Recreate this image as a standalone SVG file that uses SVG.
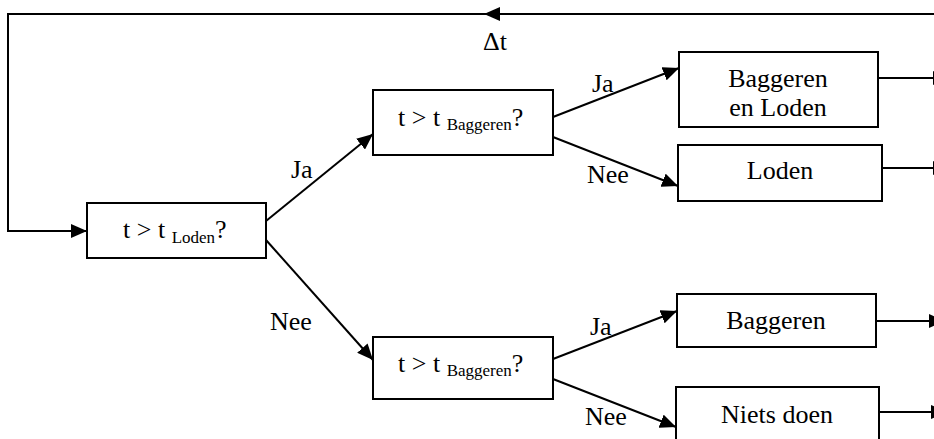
<svg xmlns="http://www.w3.org/2000/svg" width="934" height="439" viewBox="0 0 934 439">
<style>
.box{fill:#fff;stroke:#000;stroke-width:2}
.ln{fill:none;stroke:#000;stroke-width:2}
text{font-family:'Liberation Serif',serif;font-size:26px;fill:#000}
.c{text-anchor:middle}
.s{font-size:17px}
</style>
<defs>
<marker id="ah" markerUnits="userSpaceOnUse" markerWidth="16" markerHeight="14" refX="16" refY="7" orient="auto">
<path d="M0,0 L16,7 L0,14 z" fill="#000"/>
</marker>
</defs>
<rect width="934" height="439" fill="#fff"/>
<g id="connectors">
<line class="ln" x1="940" y1="14" x2="484" y2="14" marker-end="url(#ah)"/>
<polyline class="ln" points="486,14 8,14 8,231 87,231" marker-end="url(#ah)"/>
<line class="ln" x1="266" y1="221" x2="373" y2="134" marker-end="url(#ah)"/>
<line class="ln" x1="266" y1="240" x2="373" y2="360" marker-end="url(#ah)"/>
<line class="ln" x1="553" y1="117" x2="679" y2="68" marker-end="url(#ah)"/>
<line class="ln" x1="553" y1="137" x2="678" y2="186" marker-end="url(#ah)"/>
<line class="ln" x1="553" y1="359" x2="677" y2="311" marker-end="url(#ah)"/>
<line class="ln" x1="553" y1="379" x2="676" y2="427" marker-end="url(#ah)"/>
<line class="ln" x1="878" y1="78" x2="949" y2="78" marker-end="url(#ah)"/>
<line class="ln" x1="882" y1="168" x2="949" y2="168" marker-end="url(#ah)"/>
<line class="ln" x1="876" y1="321" x2="945" y2="321" marker-end="url(#ah)"/>
<line class="ln" x1="879" y1="412" x2="947" y2="412" marker-end="url(#ah)"/>
<text font-family="Liberation Serif, serif" x="483" y="50">Δt</text>
<text font-family="Liberation Serif, serif" x="291" y="178">Ja</text>
<text font-family="Liberation Serif, serif" x="270" y="330">Nee</text>
<text font-family="Liberation Serif, serif" x="592" y="92">Ja</text>
<text font-family="Liberation Serif, serif" x="587" y="183">Nee</text>
<text font-family="Liberation Serif, serif" x="590" y="335">Ja</text>
<text font-family="Liberation Serif, serif" x="585" y="425">Nee</text>
</g>
<g id="q1">
<rect class="box" x="87" y="203" width="179" height="55"/>
<text font-family="Liberation Serif, serif" x="123" y="238">t &gt; t <tspan class="s" dy="5">Loden</tspan><tspan dy="-5">?</tspan></text>
</g>
<g id="q2">
<rect class="box" x="373" y="90" width="180" height="65"/>
<text font-family="Liberation Serif, serif" x="398" y="126">t &gt; t <tspan class="s" dy="4">Baggeren</tspan><tspan dy="-4">?</tspan></text>
</g>
<g id="q3">
<rect class="box" x="373" y="337" width="180" height="62"/>
<text font-family="Liberation Serif, serif" x="398" y="372">t &gt; t <tspan class="s" dy="4">Baggeren</tspan><tspan dy="-4">?</tspan></text>
</g>
<g id="baggeren-loden">
<rect class="box" x="679" y="52" width="199" height="75"/>
<text class="c" font-family="Liberation Serif, serif" x="778" y="87">Baggeren</text>
<text class="c" font-family="Liberation Serif, serif" x="778" y="116">en Loden</text>
</g>
<g id="loden">
<rect class="box" x="678" y="145" width="204" height="56"/>
<text class="c" font-family="Liberation Serif, serif" x="780" y="179">Loden</text>
</g>
<g id="baggeren">
<rect class="box" x="677" y="294" width="199" height="53"/>
<text class="c" font-family="Liberation Serif, serif" x="776" y="329">Baggeren</text>
</g>
<g id="niets-doen">
<rect class="box" x="676" y="387" width="203" height="60"/>
<text class="c" font-family="Liberation Serif, serif" x="777" y="423">Niets doen</text>
</g>
</svg>
